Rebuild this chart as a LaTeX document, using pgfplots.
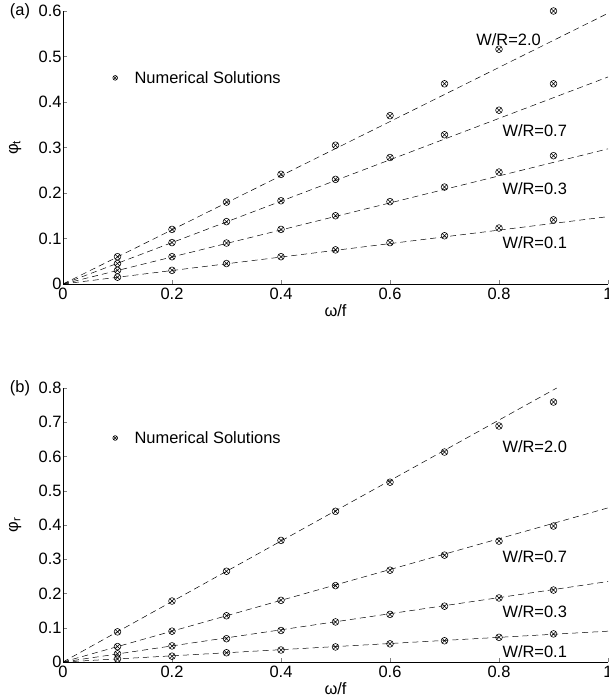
\documentclass[border=0pt]{standalone}
\usepackage{fontspec}
\setmainfont{Liberation Sans}
\usepackage{pgfplots}
\pgfplotsset{compat=1.18}
\usetikzlibrary{plotmarks}

\pgfplotsset{
  panel/.style={
    scale only axis,
    width=545bp,
    anchor=south west,
    xmin=0, xmax=1,
    ymin=0,
    axis x line*=bottom,
    axis y line*=left,
    tick align=inside,
    major tick length=4bp,
    xtick={0,0.2,...,1},
    font=\fontsize{16.5}{19}\selectfont,
    /pgf/number format/assume math mode=true,
    xticklabel style={yshift=-1bp},
    yticklabel style={xshift=2bp},
    xlabel={ω/f},
    xlabel style={at={(axis description cs:0.5,0)}, anchor=center, yshift=-27bp},
    ylabel style={at={(axis description cs:-0.088,0.5)}, anchor=center},
    legend style={draw=none, fill=none, inner sep=0pt, column sep=15bp},
    legend image code/.code={\draw[#1, mark size=2.4pt] plot coordinates {(0cm,0cm)};},
  },
  fit/.style={black, dash pattern=on 6bp off 4bp, line width=0.5pt, forget plot},
  num/.style={black, only marks, mark=otimes, mark size=3.4pt, line width=0.55pt},
}

\begin{document}
\begin{tikzpicture}
\path[use as bounding box] (0,0) rectangle (609bp,698bp);

% (a)
\begin{axis}[panel, name=pa,
  at={(63bp,414bp)},
  height=273bp,
  ymax=0.6,
  ytick={0,0.1,...,0.6},
  ylabel={φ\textsubscript{t}},
  legend style={at={(axis cs:0.091,0.453)}, anchor=west},
]
\addplot[num] coordinates {(0.1,0.060) (0.2,0.120) (0.3,0.180) (0.4,0.241) (0.5,0.305) (0.6,0.370) (0.7,0.440) (0.8,0.516) (0.9,0.600)};
\addlegendentry{Numerical Solutions}
\addplot[num, forget plot] coordinates {(0.1,0.045) (0.2,0.091) (0.3,0.137) (0.4,0.183) (0.5,0.230) (0.6,0.278) (0.7,0.328) (0.8,0.382) (0.9,0.440)};
\addplot[num, forget plot] coordinates {(0.1,0.030) (0.2,0.060) (0.3,0.090) (0.4,0.120) (0.5,0.150) (0.6,0.181) (0.7,0.213) (0.8,0.246) (0.9,0.282)};
\addplot[num, forget plot] coordinates {(0.1,0.015) (0.2,0.030) (0.3,0.045) (0.4,0.060) (0.5,0.075) (0.6,0.091) (0.7,0.106) (0.8,0.123) (0.9,0.141)};
\addplot[fit] coordinates {(0,0) (1,0.595)};
\addplot[fit] coordinates {(0,0) (1,0.455)};
\addplot[fit] coordinates {(0,0) (1,0.297)};
\addplot[fit] coordinates {(0,0) (1,0.148)};
\node[anchor=west] at (axis cs:0.752,0.538) {W/R=2.0};
\node[anchor=west] at (axis cs:0.800,0.338) {W/R=0.7};
\node[anchor=west] at (axis cs:0.800,0.209) {W/R=0.3};
\node[anchor=west] at (axis cs:0.800,0.090) {W/R=0.1};
\end{axis}
\node[font=\fontsize{16.5}{19}\selectfont] at ([xshift=-43bp]pa.north west) {(a)};

% (b)
\begin{axis}[panel, name=pb,
  at={(63bp,36bp)},
  height=274bp,
  ymax=0.8,
  ytick={0,0.1,...,0.8},
  ylabel={φ\textsubscript{r}},
  legend style={at={(axis cs:0.091,0.654)}, anchor=west},
]
\addplot[num] coordinates {(0.1,0.088) (0.2,0.178) (0.3,0.265) (0.4,0.355) (0.5,0.440) (0.6,0.525) (0.7,0.613) (0.8,0.689) (0.9,0.759)};
\addlegendentry{Numerical Solutions}
\addplot[num, forget plot] coordinates {(0.1,0.045) (0.2,0.090) (0.3,0.135) (0.4,0.180) (0.5,0.223) (0.6,0.268) (0.7,0.312) (0.8,0.353) (0.9,0.397)};
\addplot[num, forget plot] coordinates {(0.1,0.024) (0.2,0.047) (0.3,0.068) (0.4,0.092) (0.5,0.117) (0.6,0.139) (0.7,0.163) (0.8,0.187) (0.9,0.210)};
\addplot[num, forget plot] coordinates {(0.1,0.009) (0.2,0.017) (0.3,0.027) (0.4,0.035) (0.5,0.044) (0.6,0.053) (0.7,0.062) (0.8,0.072) (0.9,0.082)};
\addplot[fit] coordinates {(0,0) (0.906,0.800)};
\addplot[fit] coordinates {(0,0) (1,0.450)};
\addplot[fit] coordinates {(0,0) (1,0.235)};
\addplot[fit] coordinates {(0,0) (1,0.090)};
\node[anchor=west] at (axis cs:0.800,0.630) {W/R=2.0};
\node[anchor=west] at (axis cs:0.800,0.307) {W/R=0.7};
\node[anchor=west] at (axis cs:0.800,0.146) {W/R=0.3};
\node[anchor=west] at (axis cs:0.800,0.030) {W/R=0.1};
\end{axis}
\node[font=\fontsize{16.5}{19}\selectfont] at ([xshift=-43bp]pb.north west) {(b)};
\end{tikzpicture}
\end{document}
